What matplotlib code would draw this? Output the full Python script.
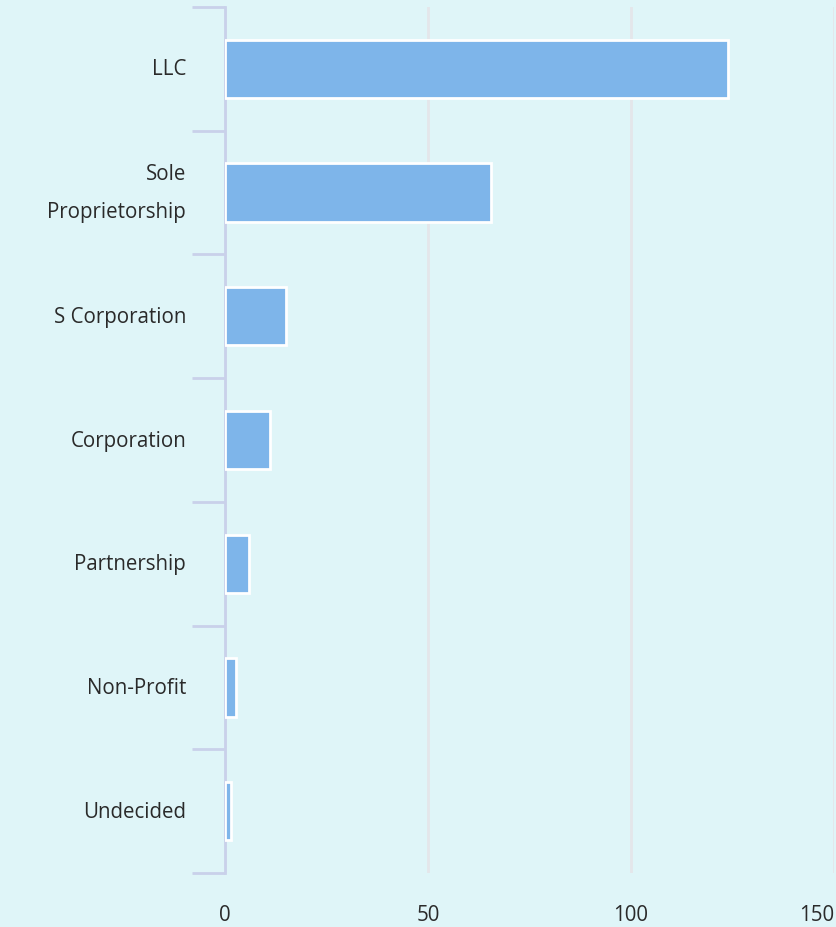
#!/usr/bin/env python3

import numpy as np
import matplotlib
matplotlib.use('Agg')
import matplotlib.pyplot as plt


#------------------------------------------------------------------------------
# Data
#------------------------------------------------------------------------------

categories = ['LLC', 'Sole\nProprietorship', 'S Corporation', 'Corporation',
              'Partnership', 'Non-Profit', 'Undecided']
counts = [124, 65.5, 15, 11, 5.8, 2.7, 1.5]
x_ticks = [0, 50, 100, 150]

BG = '#dff5f8'
BAR = '#7eb5ea'
AXIS = '#c9d1ea'
GRID = '#e4e6ea'
TEXT = '#2a2a2a'


#------------------------------------------------------------------------------
# Plot
#------------------------------------------------------------------------------

plt.rcParams['font.family'] = ['Open Sans', 'DejaVu Sans']

fig = plt.figure(figsize=(8.36, 9.28), dpi=100, facecolor=BG)
ax = fig.add_axes([225 / 836, 1 - 874 / 928, 609 / 836, 866 / 928])
ax.set_facecolor(BG)

y = np.arange(len(categories))
ax.barh(y, counts, height=0.47, color=BAR, edgecolor='white', linewidth=2, zorder=3)

ax.set_xlim(0, 150)
ax.set_ylim(len(categories) - 0.5, -0.5)

# category labels sit at bar centers, ticks at the boundaries
ax.set_yticks(np.arange(-0.5, len(categories)), minor=False)
ax.set_yticklabels([])
ax.set_yticks(y, minor=True)
ax.set_yticklabels(categories, minor=True, fontsize=14.8, color=TEXT,
                   ha='right', va='center', multialignment='right',
                   linespacing=2.05)
ax.tick_params(axis='y', which='major', length=24, width=2, color=AXIS)
ax.tick_params(axis='y', which='minor', length=0, pad=28)

ax.set_xticks(x_ticks)
ax.set_xticklabels([str(t) for t in x_ticks], fontsize=14.8, color=TEXT)
ax.tick_params(axis='x', length=0, pad=22)
ax.get_xticklabels()[-1].set_ha('right')

ax.grid(axis='x', color=GRID, linewidth=2, zorder=0)
ax.grid(axis='y', visible=False)

for side in ['top', 'right', 'bottom']:
    ax.spines[side].set_visible(False)
ax.spines['left'].set_color(AXIS)
ax.spines['left'].set_linewidth(2)

fig.savefig('out.png', dpi=100, facecolor=BG)
plt.close(fig)
